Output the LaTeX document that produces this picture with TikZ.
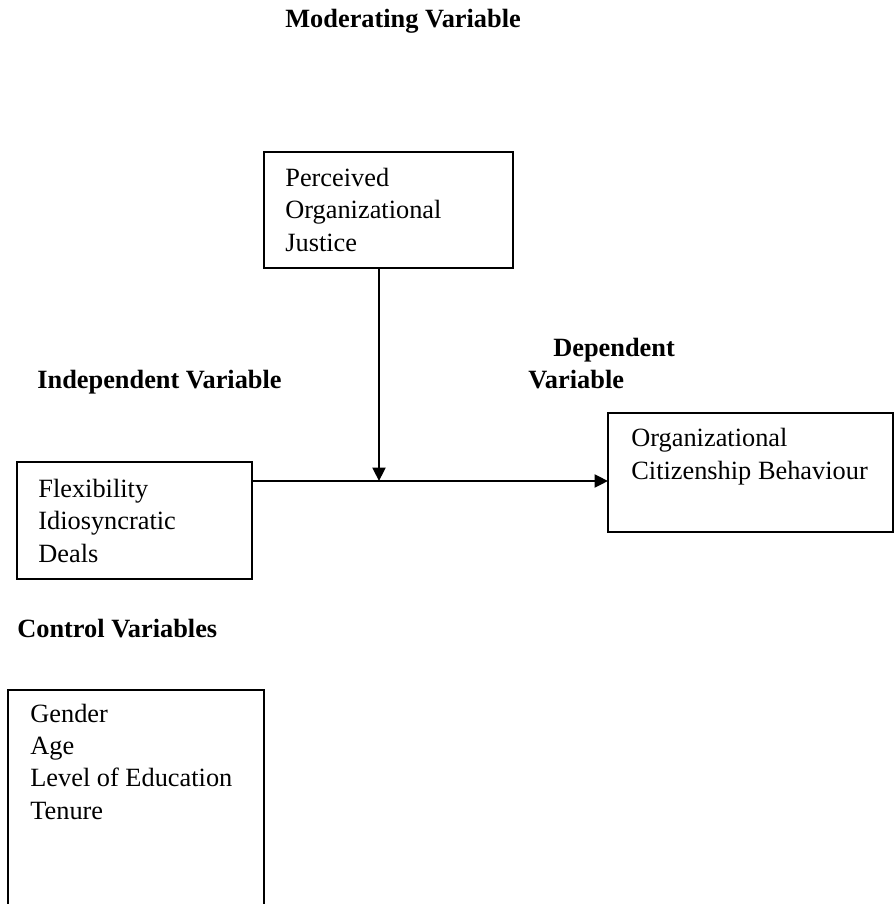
\documentclass[tikz,border=0pt]{standalone}
\usepackage{fontspec}
\setmainfont{Liberation Serif}
\usepackage{xcolor}
\usepackage{tikz}
\usetikzlibrary{arrows.meta}
\usetikzlibrary{calc,positioning}

\tikzset{
    box/.style={draw, line width=1pt, inner sep=0pt, outer sep=0pt},
    txt/.style={anchor=base west, align=left, inner sep=0pt,
        font=\fontsize{15}{18.4}\selectfont},
    head/.style={txt, font=\fontsize{15}{18.4}\selectfont\bfseries},
    arr/.style={-{Triangle[length=0.27cm, width=0.26cm]}, line width=1.3pt}
}

\begin{document}
\begin{tikzpicture}[x=0.02cm, y=-0.02cm]

    \useasboundingbox (0,0) rectangle (894,904);

    % Koppen
    \node[head] (modlbl) at (285,27) {Moderating Variable};
    \node[head] (indlbl) at (37,388) {Independent Variable};
    \node[head] (deplbla) at (553,356) {Dependent};
    \node[head] (deplblb) at (528,388) {Variable};
    \node[head] (ctrllbl) at (17,637) {Control Variables};

    % Kaders
    \node[box, minimum width=4.98cm, minimum height=2.32cm] (mod) at (388.5,210) {};
    \node[box, minimum width=4.7cm, minimum height=2.34cm] (ind) at (134.5,520.5) {};
    \node[box, minimum width=5.7cm, minimum height=2.38cm] (dep) at (750.5,472.5) {};
    \node[box, minimum width=5.12cm, minimum height=4.4cm] (ctrl) at (136,800) {};

    % Teksten (basislijn = laatste regel)
    \node[txt] (modtxt) at (285,251) {Perceived\\Organizational\\Justice};
    \node[txt] (indtxt) at (38,562) {Flexibility\\Idiosyncratic\\Deals};
    \node[txt] (deptxt) at (631,479) {Organizational\\Citizenship Behaviour};
    \node[txt] (ctrltxt) at (30,819) {Gender\\Age\\Level of Education\\Tenure};

    % Pijlen
    \coordinate (join) at (379,481);
    \draw[arr] (mod.south -| join) -- (join);
    \draw[arr] (ind.east |- join) -- (dep.west |- join);

\end{tikzpicture}
\end{document}
